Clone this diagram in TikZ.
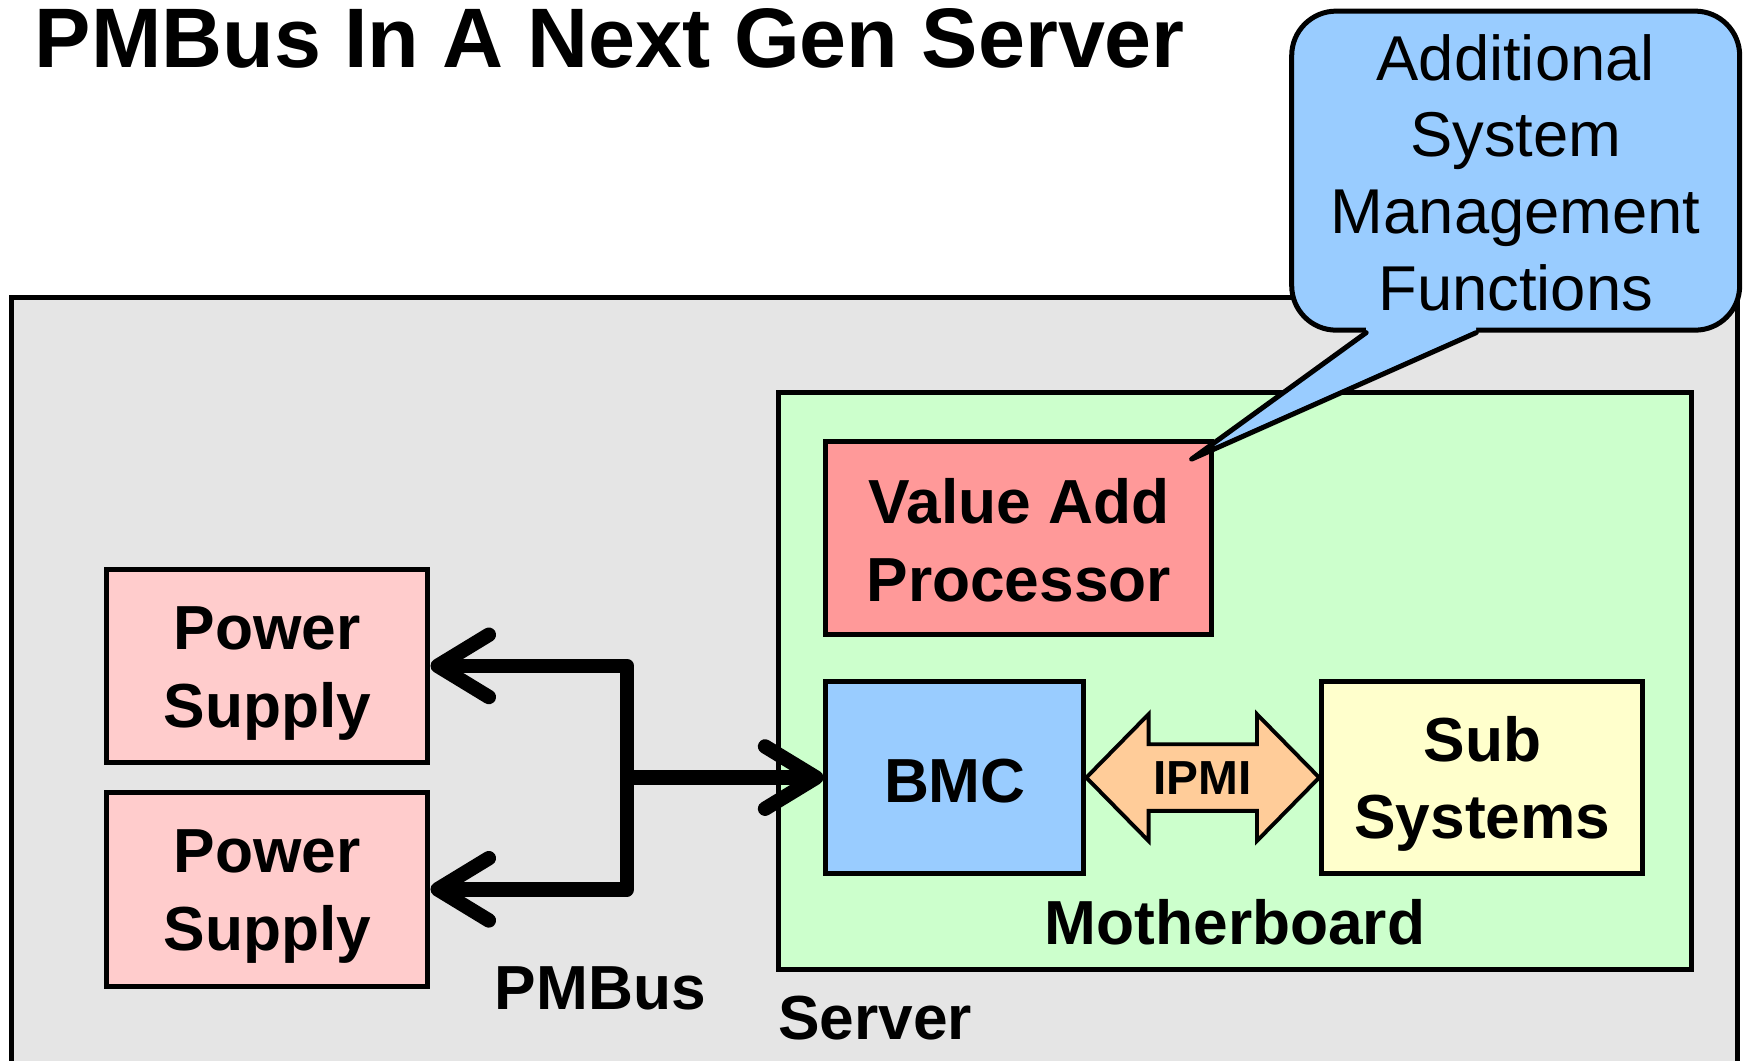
\documentclass[tikz,border=0pt]{standalone}
\usepackage{fontspec}
\setmainfont{Liberation Sans}
\usetikzlibrary{arrows.meta,calc}
\definecolor{srvgray}{HTML}{E5E5E5}
\definecolor{mbgreen}{HTML}{CCFFCC}
\definecolor{vapred}{HTML}{FF9999}
\definecolor{pspink}{HTML}{FFCCCC}
\definecolor{bmcblue}{HTML}{99CCFF}
\definecolor{subyel}{HTML}{FFFFCC}
\definecolor{ipmiorg}{HTML}{FFCC99}
\newcommand\mystrut{\rule[-8pt]{0pt}{60pt}}
\newcommand\lblfont{\fontsize{56}{70}\selectfont\bfseries}
\begin{document}
\begin{tikzpicture}[x=1pt,y=-1pt,
  box/.style={draw=black, line width=4.5pt, rectangle, inner sep=0pt, align=center, font=\lblfont},
  lbl/.style={inner sep=0pt, font=\lblfont},
  bus/.style={line width=13pt, line join=round},
  chev/.tip={Straight Barb[length=46pt,width=56pt,round]}]
\clip (0,0) rectangle (1568,954);
\fill[white] (0,0) rectangle (1568,954);
% title
\node[anchor=base west, inner sep=0pt, font=\fontsize{76}{80}\selectfont\bfseries] (title) at (31,61) {PMBus In A Next Gen Server};
% containers
\node[box, fill=srvgray, minimum width=1553pt, minimum height=732pt] (server) at (786.5,634) {};
\node[box, fill=mbgreen, minimum width=822pt, minimum height=519pt] (mb) at (1111,612.5) {};
% boxes
\node[box, fill=vapred, minimum width=347pt, minimum height=174pt] (vap) at (916.5,484) {\mystrut Value Add\\\mystrut Processor};
\node[box, fill=pspink, minimum width=289pt, minimum height=174pt] (ps1) at (240.5,599) {\mystrut Power\\\mystrut Supply};
\node[box, fill=pspink, minimum width=289pt, minimum height=174pt] (ps2) at (240.5,800) {\mystrut Power\\\mystrut Supply};
\node[box, fill=bmcblue, minimum width=232pt, minimum height=173pt] (bmc) at (859,699.5) {\mystrut BMC};
\node[box, fill=subyel, minimum width=289pt, minimum height=173pt] (sub) at (1333.5,699.5) {\mystrut Sub\\\mystrut Systems};
% labels
\node[lbl, anchor=base] (mblabel) at (1111,850) {Motherboard};
\node[lbl, anchor=base west] (pmblabel) at (445,908) {PMBus};
\node[lbl, anchor=base west] (srvlabel) at (700,935) {Server};
% PMBus connectors
\coordinate (bt) at (564,599);
\coordinate (bb) at (564,800);
\coordinate (bm) at (564,699.5);
\draw[bus, chev-chev] (ps1.east) -- (bt) -- (bb) -- (ps2.east);
\draw[bus, -chev] (bm) -- (bmc.west);
% IPMI double arrow
\draw[line width=3.5pt, fill=ipmiorg] (bmc.east) -- ++(56,-57) -- ++(0,27) -- ($(sub.west)+(-56,-30)$) -- ++(0,-27) -- (sub.west) -- ++(-56,57) -- ++(0,-27) -- ($(bmc.east)+(56,30)$) -- ++(0,27) -- cycle;
\node[inner sep=0pt, font=\fontsize{43}{50}\selectfont\bfseries] (ipmi) at ($(bmc.east)!0.5!(sub.west)$) {IPMI};
% callout
\node[draw=black, line width=4.5pt, fill=bmcblue, rounded corners=40pt, minimum width=403pt, minimum height=287pt, inner sep=0pt, align=center, font=\fontsize{57}{69}\selectfont] (callout) at (1363.5,153.5) {\mystrut Additional\\\mystrut System\\\mystrut Management\\\mystrut Functions};
\coordinate (pl) at ($(callout.south)+(-134.5,0)$);
\coordinate (pr) at ($(callout.south)+(-35.5,0)$);
\coordinate (ptip) at (1072,413);
\fill[bmcblue] (pl) -- (ptip) -- (pr) -- ($(pr)+(0,-7)$) -- ($(pl)+(0,-7)$) -- cycle;
\draw[line width=4.5pt, line join=round, line cap=round] (pl) -- (ptip) -- (pr);
\end{tikzpicture}
\end{document}
